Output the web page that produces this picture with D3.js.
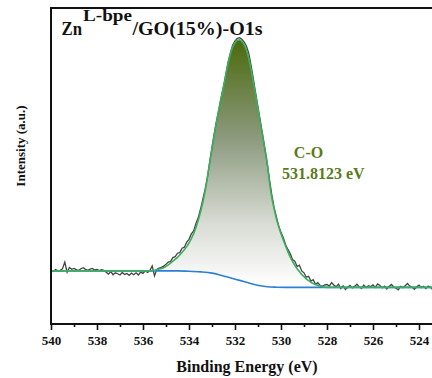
<!DOCTYPE html>
<html>
<head>
<meta charset="utf-8">
<script src="https://cdn.jsdelivr.net/npm/d3@7"></script>
<style>
  html, body { margin: 0; padding: 0; background: #fff; }
  svg { display: block; }
</style>
</head>
<body>
<svg id="chart" width="432" height="378"></svg>
<script>
// O1s spectrum: measured counts (a.u.) every 0.1 eV from 540.0 down to 523.0 eV
const rawEnergy = [
  540.0,539.9,539.8,539.7,539.6,539.5,539.4,539.3,539.2,539.1,
  539.0,538.9,538.8,538.7,538.6,538.5,538.4,538.3,538.2,538.1,
  538.0,537.9,537.8,537.7,537.6,537.5,537.4,537.3,537.2,537.1,
  537.0,536.9,536.8,536.7,536.6,536.5,536.4,536.3,536.2,536.1,
  536.0,535.9,535.8,535.7,535.6,535.5,535.4,535.3,535.2,535.1,
  535.0,534.9,534.8,534.7,534.6,534.5,534.4,534.3,534.2,534.1,
  534.0,533.9,533.8,533.7,533.6,533.5,533.4,533.3,533.2,533.1,
  533.0,532.9,532.8,532.7,532.6,532.5,532.4,532.3,532.2,532.1,
  532.0,531.9,531.8,531.7,531.6,531.5,531.4,531.3,531.2,531.1,
  531.0,530.9,530.8,530.7,530.6,530.5,530.4,530.3,530.2,530.1,
  530.0,529.9,529.8,529.7,529.6,529.5,529.4,529.3,529.2,529.1,
  529.0,528.9,528.8,528.7,528.6,528.5,528.4,528.3,528.2,528.1,
  528.0,527.9,527.8,527.7,527.6,527.5,527.4,527.3,527.2,527.1,
  527.0,526.9,526.8,526.7,526.6,526.5,526.4,526.3,526.2,526.1,
  526.0,525.9,525.8,525.7,525.6,525.5,525.4,525.3,525.2,525.1,
  525.0,524.9,524.8,524.7,524.6,524.5,524.4,524.3,524.2,524.1,
  524.0,523.9,523.8,523.7,523.6,523.5,523.4,523.3,523.2,523.1,
  523.0
];
const rawIntensity = [
  16.9,16.6,17.2,16.8,17.0,17.5,19.6,16.4,17.9,17.3,
  17.6,17.2,16.9,17.5,17.8,17.3,17.0,17.4,17.6,17.1,
  17.3,16.9,17.2,17.0,16.4,15.8,16.6,15.6,16.2,15.9,
  15.5,16.3,15.7,16.0,15.4,16.1,15.6,16.2,15.5,16.4,
  16.0,16.8,16.3,16.9,18.4,15.2,17.3,17.7,17.9,18.3,
  18.9,19.6,19.8,21.0,21.3,22.4,22.6,24.0,24.3,25.9,
  26.8,28.5,29.4,31.8,33.6,36.3,39.4,42.6,46.4,51.3,
  55.8,60.3,64.4,67.9,71.8,75.2,78.9,82.9,85.8,88.3,
  89.6,90.4,90.6,90.1,89.2,87.9,85.6,81.8,77.4,72.9,
  68.6,64.3,60.0,55.4,50.8,45.6,40.9,36.8,33.9,31.0,
  29.0,27.3,25.1,23.6,22.3,20.4,19.9,18.2,18.6,16.8,
  16.2,14.8,15.1,13.6,14.0,12.6,13.1,12.2,11.9,12.4,
  12.5,12.0,13.1,12.3,11.8,12.6,11.2,12.1,10.9,11.6,
  12.2,11.4,11.9,12.6,11.7,11.3,12.3,11.5,12.1,11.8,
  12.4,11.6,12.7,12.2,11.4,12.0,11.1,11.9,12.5,11.7,
  11.3,10.8,11.9,11.5,12.1,12.8,12.0,11.6,11.0,11.8,
  12.3,11.5,11.9,11.2,12.0,11.6,10.9,11.7,12.2,11.4,
  11.8
];

// Fitted C-O component (peak + background)
const fitEnergy = [
  540.0,538.0,536.0,535.7,535.5,535.3,535.1,534.9,534.7,534.5,534.3,534.1,
  533.9,533.7,533.5,533.3,533.1,532.9,532.7,532.5,532.3,532.1,532.0,531.9,
  531.8,531.7,531.6,531.5,531.4,531.3,531.2,531.1,531.0,530.9,530.8,530.7,
  530.6,530.5,530.4,530.3,530.2,530.1,530.0,529.9,529.8,529.7,529.6,529.5,
  529.4,529.3,529.2,529.1,529.0,528.9,528.8,528.7,528.6,528.5,528.4,528.3,
  528.2,528.1,528.0,526.0,523.0
];
const fitIntensity = [
  16.8,16.8,16.8,16.8,17.0,17.4,17.8,18.7,19.9,21.1,22.7,24.5,
  27.0,30.5,35.4,42.0,51.0,60.0,68.0,75.0,82.5,87.7,89.0,89.8,
  89.9,89.4,88.3,86.6,84.0,80.5,76.5,72.3,68.0,63.5,59.5,55.5,
  51.0,45.0,40.0,36.5,33.3,30.8,28.6,26.6,24.7,22.9,21.2,19.8,
  18.6,17.5,16.6,15.7,15.0,14.3,13.7,13.2,12.8,12.5,12.2,12.0,
  11.8,11.7,11.6,11.6,11.6
];

// Shirley background
const bgEnergy = [540.0, 534.5, 534.0, 533.5, 533.0, 532.7, 532.4, 532.1, 531.8, 531.5, 531.2, 530.9, 530.6, 530.2, 529.8, 523.0];
const bgIntensity = [16.8, 16.8, 16.7, 16.5, 16.1, 15.6, 15.0, 14.4, 13.8, 13.2, 12.6, 12.1, 11.8, 11.65, 11.6, 11.6];

const majorTicks = [540, 538, 536, 534, 532, 530, 528, 526, 524];
const minorTicks = [539, 537, 535, 533, 531, 529, 527, 525, 523];

const peakName = "C-O";
const peakPosition = 531.8123;

const SERIF = "'Liberation Serif', 'Times New Roman', Times, serif";

const svg = d3.select("#chart");
const plotLeft = 51, plotTop = 8, plotBottom = 324, plotRight = 442;

const x = d3.scaleLinear().domain([540, 523]).range([plotLeft, plotRight]);
const y = d3.scaleLinear().domain([0, 100]).range([plotBottom, plotTop]);

const defs = svg.append("defs");
defs.append("clipPath").attr("id", "plotClip")
  .append("rect").attr("x", plotLeft).attr("y", plotTop)
  .attr("width", plotRight - plotLeft).attr("height", plotBottom - plotTop);

// vertical gradient for the fitted component
const grad = defs.append("linearGradient")
  .attr("id", "peakFill").attr("gradientUnits", "userSpaceOnUse")
  .attr("x1", 0).attr("x2", 0).attr("y1", y(90)).attr("y2", y(12));
grad.append("stop").attr("offset", 0).attr("stop-color", "#4b690c");
grad.append("stop").attr("offset", 0.4).attr("stop-color", "#8c9a7e");
grad.append("stop").attr("offset", 0.75).attr("stop-color", "#d9ddd5");
grad.append("stop").attr("offset", 1).attr("stop-color", "#ffffff");

const fitPts = fitEnergy.map((e, i) => [e, fitIntensity[i]]);
const bgPts = bgEnergy.map((e, i) => [e, bgIntensity[i]]);
const rawPts = rawEnergy.map((e, i) => [e, rawIntensity[i]]);
const bgAt = d3.scaleLinear().domain(bgEnergy).range(bgIntensity);

const plot = svg.append("g").attr("clip-path", "url(#plotClip)");

// filled area between fit and background
plot.append("path")
  .datum(fitPts)
  .attr("fill", "url(#peakFill)")
  .attr("d", d3.area()
    .x(d => x(d[0]))
    .y0(d => y(bgAt(d[0])))
    .y1(d => y(d[1]))
    .curve(d3.curveMonotoneX));

plot.append("path")
  .datum(rawPts)
  .attr("fill", "none")
  .attr("stroke", "#444444")
  .attr("stroke-width", 1.3)
  .attr("d", d3.line().x(d => x(d[0])).y(d => y(d[1])));

plot.append("path")
  .datum(bgPts)
  .attr("fill", "none")
  .attr("stroke", "#2d7fd6")
  .attr("stroke-width", 1.6)
  .attr("d", d3.line().x(d => x(d[0])).y(d => y(d[1])).curve(d3.curveMonotoneX));

plot.append("path")
  .datum(fitPts)
  .attr("fill", "none")
  .attr("stroke", "#3dae5e")
  .attr("stroke-width", 1.6)
  .attr("d", d3.line().x(d => x(d[0])).y(d => y(d[1])).curve(d3.curveMonotoneX));

// frame
svg.append("rect")
  .attr("x", plotLeft).attr("y", plotTop)
  .attr("width", plotRight - plotLeft).attr("height", plotBottom - plotTop)
  .attr("fill", "none").attr("stroke", "#111").attr("stroke-width", 2);

// bottom axis: major ticks with labels, minor ticks without
const axis = svg.append("g").attr("transform", `translate(0,${plotBottom})`)
  .call(d3.axisBottom(x).tickValues(majorTicks).tickSize(6).tickPadding(6).tickFormat(d3.format("d")));
axis.select(".domain").remove();
axis.selectAll(".tick line").attr("stroke", "#111").attr("stroke-width", 1.6);
axis.attr("font-family", SERIF).attr("font-size", 13).attr("font-weight", "bold");
axis.selectAll(".tick text").attr("fill", "#111");

const minorAxis = svg.append("g").attr("transform", `translate(0,${plotBottom})`)
  .call(d3.axisBottom(x).tickValues(minorTicks).tickSize(3).tickFormat(""));
minorAxis.select(".domain").remove();
minorAxis.selectAll(".tick line").attr("stroke", "#111").attr("stroke-width", 1.6);

function label(xp, yp, size, str, color) {
  return svg.append("text")
    .attr("x", xp).attr("y", yp)
    .attr("font-family", SERIF).attr("font-weight", "bold")
    .attr("font-size", size).attr("fill", color || "#111")
    .text(str);
}

// axis titles
label(247, 371.5, 16, "Binding Energy (eV)").attr("text-anchor", "middle");
label(0, 0, 13, "Intensity (a.u.)")
  .attr("text-anchor", "middle")
  .attr("transform", "translate(25,146) rotate(-90)");

// sample title with superscript
label(61.5, 34.5, 18, "Zn").attr("textLength", 20.5).attr("lengthAdjust", "spacingAndGlyphs");
label(83, 21, 16, "L-bpe").attr("textLength", 49).attr("lengthAdjust", "spacingAndGlyphs");
label(132.5, 34.5, 18, "/GO(15%)-O1s").attr("textLength", 130).attr("lengthAdjust", "spacingAndGlyphs");

// peak annotation
label(308.5, 158, 16, peakName, "#5a7b1c").attr("text-anchor", "middle");
label(282, 179, 16, `${peakPosition} eV`, "#5a7b1c");
</script>
</body>
</html>
